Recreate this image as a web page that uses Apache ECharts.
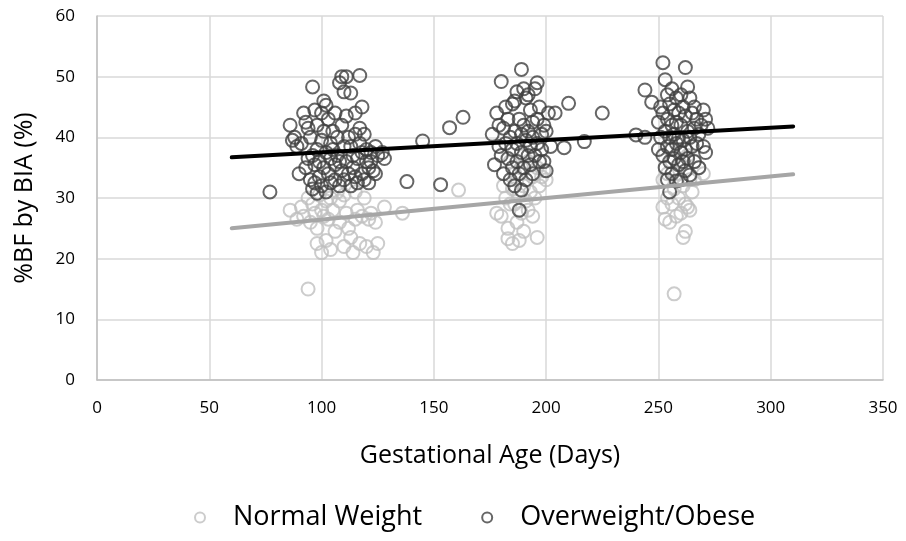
<!DOCTYPE html>
<html>
<head>
<meta charset="utf-8">
<script src="https://cdn.jsdelivr.net/npm/echarts@6/dist/echarts.min.js"></script>
<style>
html,body{margin:0;padding:0;background:#fff;}
#chart{width:906px;height:541px;}
</style>
</head>
<body>
<div id="chart"></div>
<script>
var xTicks = [0, 50, 100, 150, 200, 250, 300, 350];
var yTicks = [0, 10, 20, 30, 40, 50, 60];
var seriesNames = ['Normal Weight', 'Overweight/Obese'];

var normalWeight = [
  [86,28],[89,26.5],[91,28.5],[92,27],[94,15],[94,30],[95,26],[96,29],[97,27.5],[98,25],[98,22.5],[99,30.5],
  [100,21],[100,28],[101,27],[102,23],[102,29.5],[103,26.5],[104,21.5],[104,30],[105,28],[106,24.5],[107,31],
  [108,26],[108,29.5],[110,22],[110,30.5],[111,27.5],[112,25],[113,23.5],[114,21],[115,26.5],[115,31],[116,28],
  [117,22.5],[118,27],[119,30],[120,22],[121,26.5],[122,27.5],[123,21],[124,26],[125,22.5],[128,28.5],[136,27.5],[161,31.3],
  [178,27.5],[180,27],[181,32],[182,30],[183,23.3],[183,25],[184,29],[185,22.5],[185,31.5],[186,29],[186,34],
  [187,26],[187,33],[188,23],[188,30.5],[189,27.5],[189,35],[190,24.5],[190,32],[191,29.5],[192,28],[192,36],
  [193,31],[194,27],[194,33.5],[195,30],[196,23.5],[196,35],[197,32],[198,33.5],[199,34.5],[200,33],[190,37],[184,36],
  [252,28.5],[252,33],[253,26.5],[254,34],[254,30],[255,26],[256,29],[256,36],[257,14.2],[257,31.5],[258,27],
  [258,34],[259,30],[260,27.5],[260,35.5],[261,23.5],[261,32],[262,24.5],[262,29],[263,28.5],[263,37],[264,28],
  [264,33],[265,31],[266,33],[266,36],[268,35],[270,34],[255,38],[259,38]
];

var overweightObese = [
  [77,31],[86,42],[87,39.5],[88,40],[89,38.5],[90,34],[91,39],[92,44],[93,42.5],[93,35],[94,41.5],[94,36.5],
  [95,40],[95,33],[96,48.3],[96,37],[96,31.5],[97,44.5],[97,35.5],[97,32.5],[98,42],[98,38],[98,30.8],[99,36],
  [99,33.5],[100,44],[100,39.5],[100,32],[101,46],[101,41],[101,35],[102,45.3],[102,37.5],[102,31],[103,43],
  [103,34],[104,39],[104,36.5],[104,32.5],[105,41],[105,38],[106,44],[106,35.5],[106,33],[107,40],[107,37],
  [108,49],[108,36],[108,32],[109,50],[109,42],[109,34.5],[110,47.5],[110,38.5],[110,33],[111,50],[111,43.5],
  [111,36],[112,40],[112,34],[113,47.3],[113,38.5],[113,32],[114,37],[114,35],[115,44],[115,40.5],[115,33.5],
  [116,36.5],[116,32.5],[117,50.2],[117,41.5],[117,39],[118,45],[118,37.5],[118,34],[119,40.5],[119,33],
  [120,36],[120,38],[121,32.5],[121,35],[122,36],[122,37.5],[123,34.5],[124,38.5],[124,34],[125,37],[127,37.5],[128,36.5],
  [138,32.7],[145,39.4],[153,32.2],[157,41.6],[163,43.3],
  [176,40.5],[177,35.5],[178,44],[179,38.5],[179,42],[180,49.2],[180,37],[181,41.5],[181,34],[182,45],[182,39],
  [183,36.5],[183,43],[184,40],[184,33],[185,45.5],[185,38],[185,35],[186,46],[186,41],[186,32],[187,47.5],
  [187,39],[187,36],[188,43],[188,34],[188,28],[189,51.2],[189,40.5],[189,37.5],[189,31.3],[190,48],[190,42],
  [190,35],[191,46.5],[191,39.5],[191,33],[192,47],[192,41],[192,37],[193,44.5],[193,38.5],[193,35.5],[194,42.5],
  [194,40],[194,34],[195,48],[195,37],[196,49],[196,43],[196,39],[197,45],[197,36],[198,40.5],[198,38],[199,42],
  [199,36],[200,41],[200,34.5],[201,44],[202,38.5],[204,44],[208,38.3],[210,45.6],[217,39.3],[225,44],
  [240,40.4],[244,40],[244,47.8],[247,45.8],[250,42.5],[250,38],[251,40],[251,45],[252,52.3],[252,44],[252,37],
  [253,49.5],[253,41],[253,35],[254,47],[254,43],[254,38.5],[254,33],[255,45.5],[255,40],[255,36],[255,31],
  [256,48],[256,42],[256,38],[256,34],[257,44.5],[257,40.5],[257,36.5],[258,46.5],[258,42.5],[258,39],[258,32.8],
  [259,44],[259,40],[259,35.5],[260,47],[260,42],[260,37.5],[260,33],[261,45],[261,39.5],[261,36],[262,51.5],
  [262,43.5],[262,38],[262,34.5],[263,48.3],[263,41],[263,36.5],[264,46.5],[264,40],[264,33.8],[265,44],[265,38.5],
  [266,45],[266,41.5],[266,36],[267,43],[267,39],[268,40.5],[268,35],[269,42],[270,44.5],[270,38.5],[271,43],
  [271,37.5],[272,41.5]
];

var trendNormal = [[60, 25.0], [310, 33.9]];
var trendOverweight = [[60, 36.7], [310, 41.8]];

var font = '"Open Sans", "Noto Sans", sans-serif';
var chart = echarts.init(document.getElementById('chart'), null, {renderer: 'canvas'});
chart.setOption({
  animation: false,
  backgroundColor: '#ffffff',
  grid: {left: 97, right: 23, top: 16, bottom: 161, containLabel: false},
  xAxis: {
    type: 'value', min: xTicks[0], max: xTicks[xTicks.length - 1], interval: 50,
    name: 'Gestational Age (Days)', nameLocation: 'middle', nameGap: 63,
    nameTextStyle: {fontFamily: font, fontSize: 25, color: '#000'},
    axisLine: {show: true, lineStyle: {color: '#bfbfbf', width: 1.5}},
    axisTick: {show: false},
    axisLabel: {fontFamily: font, fontSize: 17, color: '#000', margin: 20},
    splitLine: {show: true, lineStyle: {color: '#d9d9d9', width: 1.5}}
  },
  yAxis: {
    type: 'value', min: yTicks[0], max: yTicks[yTicks.length - 1], interval: 10,
    name: '%BF by BIA (%)', nameLocation: 'middle', nameGap: 60,
    nameTextStyle: {fontFamily: font, fontSize: 25, color: '#000'},
    axisLine: {show: true, lineStyle: {color: '#bfbfbf', width: 1.5}},
    axisTick: {show: false},
    axisLabel: {fontFamily: font, fontSize: 17, color: '#000', margin: 22},
    splitLine: {show: true, lineStyle: {color: '#d9d9d9', width: 1.5}}
  },
  legend: {
    data: seriesNames,
    bottom: 5, left: 189,
    icon: 'circle', itemWidth: 56, itemHeight: 10, itemGap: 59,
    textStyle: {fontFamily: font, fontSize: 27, color: '#000'}
  },
  series: [
    {
      name: seriesNames[0], type: 'scatter', data: normalWeight, symbol: 'circle', symbolSize: 13,
      itemStyle: {color: 'rgba(255,255,255,0)', borderColor: '#bfbfbf', borderWidth: 2}, z: 2
    },
    {
      name: seriesNames[1], type: 'scatter', data: overweightObese, symbol: 'circle', symbolSize: 13,
      itemStyle: {color: 'rgba(255,255,255,0)', borderColor: '#404040', borderWidth: 2}, z: 3
    },
    {
      name: 'Normal trend', type: 'line', data: trendNormal, symbol: 'none', silent: true,
      lineStyle: {color: '#a6a6a6', width: 4, cap: 'round'}, z: 4
    },
    {
      name: 'Overweight trend', type: 'line', data: trendOverweight, symbol: 'none', silent: true,
      lineStyle: {color: '#000000', width: 4, cap: 'round'}, z: 5
    }
  ]
});
</script>
</body>
</html>
